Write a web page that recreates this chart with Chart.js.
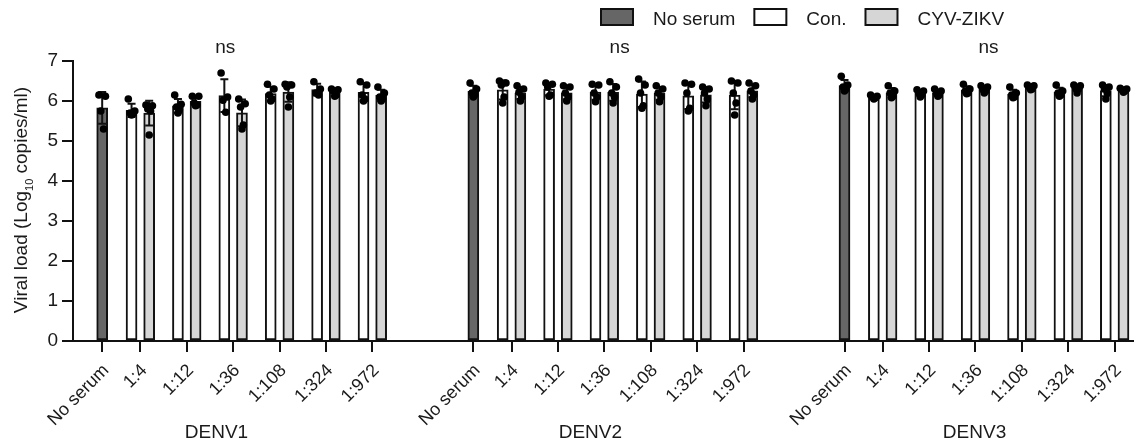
<!DOCTYPE html>
<html>
<head>
<meta charset="utf-8">
<script src="https://cdn.jsdelivr.net/npm/chart.js@4.4.0/dist/chart.umd.min.js"></script>
<style>
  html, body { margin: 0; padding: 0; background: #fff; }
  #wrap { width: 1138px; height: 446px; position: relative; }
</style>
</head>
<body>
<div id="wrap"><canvas id="chart"></canvas></div>
<script>
const groups = ['DENV1', 'DENV2', 'DENV3']
const dilutions = ['No serum', '1:4', '1:12', '1:36', '1:108', '1:324', '1:972']
const seriesNames = ['No serum', 'Con.', 'CYV-ZIKV']
const yTitle = ['Viral load (Log', '10', ' copies/ml)']
const sigLabels = ['ns', 'ns', 'ns']

// replicate values (log10 copies/ml), one array per bar
const noSerum = [
  [6.15, 6.12, 5.75, 5.3],
  [6.45, 6.3, 6.2, 6.15, 6.1],
  [6.62, 6.4, 6.35, 6.3, 6.25]
]
const conDENV1 = [
  [6.05, 5.75, 5.7, 5.68, 5.65],
  [6.15, 5.92, 5.85, 5.78, 5.7],
  [6.7, 6.1, 6.02, 5.72],
  [6.42, 6.3, 6.15, 6.05, 6.0],
  [6.48, 6.3, 6.2, 6.15],
  [6.48, 6.4, 6.15, 6.05, 6.0]
]
const cyvDENV1 = [
  [5.9, 5.88, 5.8, 5.75, 5.15],
  [6.12, 6.12, 5.95, 5.9, 5.88],
  [6.05, 5.93, 5.85, 5.4, 5.3],
  [6.42, 6.4, 6.35, 6.1, 5.85],
  [6.3, 6.28, 6.25, 6.15, 6.12],
  [6.35, 6.2, 6.1, 6.05, 6.0]
]
const conDENV2 = [
  [6.5, 6.45, 6.4, 6.1, 5.95],
  [6.45, 6.42, 6.35, 6.15, 6.12],
  [6.42, 6.4, 6.2, 6.1, 5.98],
  [6.55, 6.4, 6.2, 5.88, 5.82],
  [6.45, 6.42, 6.2, 5.82, 5.75],
  [6.5, 6.45, 6.2, 5.95, 5.65]
]
const cyvDENV2 = [
  [6.38, 6.3, 6.22, 6.1, 6.0],
  [6.38, 6.35, 6.2, 6.1, 6.0],
  [6.48, 6.35, 6.2, 6.1, 5.95],
  [6.38, 6.3, 6.2, 6.1, 5.98],
  [6.35, 6.3, 6.2, 6.05, 5.88],
  [6.45, 6.38, 6.25, 6.15, 6.05]
]
const conDENV3 = [
  [6.15, 6.12, 6.1, 6.08, 6.05],
  [6.28, 6.25, 6.2, 6.15, 6.1],
  [6.42, 6.3, 6.25, 6.2, 6.18],
  [6.35, 6.2, 6.15, 6.1, 6.08],
  [6.4, 6.25, 6.2, 6.15, 6.12],
  [6.4, 6.35, 6.3, 6.2, 6.05]
]
const cyvDENV3 = [
  [6.38, 6.25, 6.2, 6.12, 6.08],
  [6.3, 6.25, 6.2, 6.15, 6.12],
  [6.38, 6.35, 6.3, 6.25, 6.2],
  [6.4, 6.38, 6.35, 6.3, 6.28],
  [6.4, 6.38, 6.32, 6.3, 6.2],
  [6.32, 6.3, 6.28, 6.25, 6.22]
]

const conAll = [conDENV1, conDENV2, conDENV3]
const cyvAll = [cyvDENV1, cyvDENV2, cyvDENV3]

const FONT = "'Liberation Sans', Arial, sans-serif"
const colors = ['#666666', '#ffffff', '#d6d6d6']

// x layout (in category units)
const GROUP_STEP = 8
const NOSERUM_OFF = -0.823
const PAIR_OFF = 0.19
const jitter = [-0.07, 0.07, -0.03, 0.03, 0, 0.05]
function pos(g, i) { return g * GROUP_STEP + (i === 0 ? NOSERUM_OFF : i - 1) }

const mean = a => a.reduce((s, v) => s + v, 0) / a.length
const sd = a => {
  const m = mean(a)
  return Math.sqrt(a.reduce((s, v) => s + (v - m) * (v - m), 0) / (a.length - 1))
}

const tickPos = []
const tickLab = []
groups.forEach((g, gi) => dilutions.forEach((d, i) => { tickPos.push(pos(gi, i)); tickLab.push(d) }))

// bars
const barNo = [], barCon = [], barCyv = [], dots = []
groups.forEach((g, gi) => {
  const x0 = pos(gi, 0)
  barNo.push({ x: x0, y: mean(noSerum[gi]), reps: noSerum[gi] })
  noSerum[gi].forEach((v, j) => dots.push({ x: x0 + jitter[j], y: v }))
  for (let i = 1; i < dilutions.length; i++) {
    const xc = pos(gi, i) - PAIR_OFF
    const xz = pos(gi, i) + PAIR_OFF
    const rc = conAll[gi][i - 1]
    const rz = cyvAll[gi][i - 1]
    barCon.push({ x: xc, y: mean(rc), reps: rc })
    barCyv.push({ x: xz, y: mean(rz), reps: rz })
    rc.forEach((v, j) => dots.push({ x: xc + jitter[j], y: v }))
    rz.forEach((v, j) => dots.push({ x: xz + jitter[j], y: v }))
  }
})

function barSet(label, data, color) {
  return {
    type: 'bar', label, data, order: 1,
    backgroundColor: color, borderColor: '#111', borderWidth: 2,
    borderSkipped: false, barThickness: 11, grouped: false
  }
}

const errorBars = {
  id: 'errorBars',
  afterDatasetDraw(chart, args) {
    const ds = chart.data.datasets[args.index]
    if (ds.type !== 'bar') return
    const ctx = chart.ctx
    const ys = chart.scales.y
    ctx.save()
    ctx.strokeStyle = '#111'
    ctx.lineWidth = 2
    args.meta.data.forEach((el, i) => {
      const r = ds.data[i].reps
      const m = mean(r), s = sd(r)
      const top = ys.getPixelForValue(m + s)
      const bot = ys.getPixelForValue(m - s)
      ctx.beginPath()
      ctx.moveTo(el.x, top); ctx.lineTo(el.x, bot)
      ctx.moveTo(el.x - 4, top); ctx.lineTo(el.x + 4, top)
      ctx.moveTo(el.x - 4, bot); ctx.lineTo(el.x + 4, bot)
      ctx.stroke()
    })
    ctx.restore()
  }
}

const annotations = {
  id: 'annotations',
  afterDraw(chart) {
    const ctx = chart.ctx
    const xs = chart.scales.x
    ctx.save()
    ctx.fillStyle = '#1a1a1a'
    ctx.textBaseline = 'alphabetic'

    // ns labels
    ctx.font = '19px ' + FONT
    ctx.textAlign = 'center'
    const nsX = [1.83, 10.33, 18.28]
    sigLabels.forEach((t, i) => ctx.fillText(t, xs.getPixelForValue(nsX[i]), 53))

    // group labels
    const gX = [1.64, 9.70, 17.98]
    groups.forEach((t, i) => ctx.fillText(t, xs.getPixelForValue(gX[i]), 438))

    // legend
    let lx = 601
    ctx.textAlign = 'left'
    seriesNames.forEach((t, i) => {
      ctx.fillStyle = colors[i]
      ctx.fillRect(lx, 9, 32, 16)
      ctx.strokeStyle = '#111'
      ctx.lineWidth = 2
      ctx.strokeRect(lx, 9, 32, 16)
      ctx.fillStyle = '#1a1a1a'
      ctx.fillText(t, lx + 52, 25)
      lx += 52 + ctx.measureText(t).width + 19
    })

    // y title with subscript
    ctx.translate(27, 200)
    ctx.rotate(-Math.PI / 2)
    ctx.font = '19px ' + FONT
    const w0 = ctx.measureText(yTitle[0]).width
    const w2 = ctx.measureText(yTitle[2]).width
    ctx.font = '11px ' + FONT
    const w1 = ctx.measureText(yTitle[1]).width
    let tx = -(w0 + w1 + w2) / 2
    ctx.font = '19px ' + FONT
    ctx.fillText(yTitle[0], tx, 0)
    tx += w0
    ctx.font = '11px ' + FONT
    ctx.fillText(yTitle[1], tx, 6)
    tx += w1
    ctx.font = '19px ' + FONT
    ctx.fillText(yTitle[2], tx, 0)
    ctx.restore()
  }
}

new Chart(document.getElementById('chart'), {
  type: 'bar',
  data: {
    datasets: [
      barSet(seriesNames[0], barNo, colors[0]),
      barSet(seriesNames[1], barCon, colors[1]),
      barSet(seriesNames[2], barCyv, colors[2]),
      {
        type: 'scatter', label: 'points', data: dots, order: 0,
        backgroundColor: '#000', borderWidth: 0, pointRadius: 3.8, pointHoverRadius: 3.8
      }
    ]
  },
  options: {
    responsive: true,
    maintainAspectRatio: false,
    animation: false,
    events: [],
    layout: { padding: { top: 61, left: 0, right: 0, bottom: 0 } },
    plugins: { legend: { display: false }, tooltip: { enabled: false } },
    scales: {
      x: {
        type: 'linear',
        offset: false,
        min: -1.452,
        max: 21.39,
        afterFit: s => { s.height = 105 },
        afterBuildTicks: s => { s.ticks = tickPos.map(v => ({ value: v })) },
        border: { display: true, color: '#111', width: 2 },
        grid: { display: true, offset: false, drawOnChartArea: false, drawTicks: true, tickLength: 11, color: '#111', lineWidth: 2 },
        ticks: {
          autoSkip: false, minRotation: 45, maxRotation: 45,
          padding: 8, labelOffset: 4,
          color: '#1a1a1a', font: { family: FONT, size: 18 },
          callback: (v, i) => tickLab[i]
        }
      },
      y: {
        min: 0,
        max: 7,
        afterFit: s => { s.width = 73 },
        border: { display: true, color: '#111', width: 2 },
        grid: { display: true, drawOnChartArea: false, drawTicks: true, tickLength: 11, color: '#111', lineWidth: 2 },
        ticks: { stepSize: 1, padding: 4, color: '#1a1a1a', font: { family: FONT, size: 19 } }
      }
    }
  },
  plugins: [errorBars, annotations]
})
</script>
</body>
</html>
